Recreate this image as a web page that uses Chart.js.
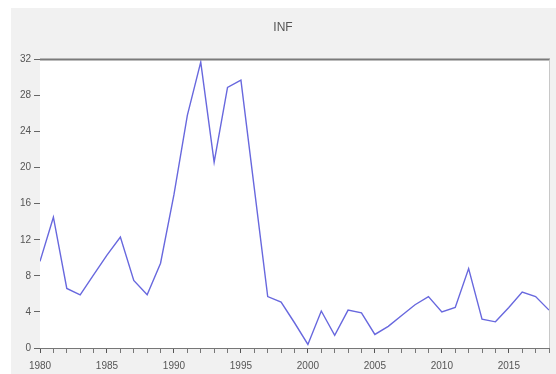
<!DOCTYPE html>
<html>
<head>
<meta charset="utf-8">
<script src="https://cdn.jsdelivr.net/npm/chart.js@4"></script>
<style>
  html, body { margin: 0; padding: 0; background: #fff; }
  #panel { position: absolute; left: 11px; top: 8px; width: 545px; height: 366px; background: #f1f1f1; }
</style>
</head>
<body>
<div id="panel"><canvas id="chart" width="545" height="366"></canvas></div>
<script>
// annual series
const years = [1980, 1981, 1982, 1983, 1984, 1985, 1986, 1987, 1988, 1989,
  1990, 1991, 1992, 1993, 1994, 1995, 1996, 1997, 1998, 1999,
  2000, 2001, 2002, 2003, 2004, 2005, 2006, 2007, 2008, 2009,
  2010, 2011, 2012, 2013, 2014, 2015, 2016, 2017, 2018];
const inf = [9.6, 14.5, 6.6, 5.9, 8.1, 10.3, 12.3, 7.5, 5.9, 9.4,
  17.0, 25.8, 31.7, 20.6, 28.9, 29.7, 17.7, 5.7, 5.1, 2.8,
  0.4, 4.1, 1.4, 4.2, 3.9, 1.5, 2.4, 3.6, 4.8, 5.7,
  4.0, 4.5, 8.8, 3.2, 2.9, 4.5, 6.2, 5.7, 4.2];
const yTicks = [0, 4, 8, 12, 16, 20, 24, 28, 32];
const xLabelEvery = 5;

const points = years.map((yr, i) => ({ x: yr, y: inf[i] }));

// white plot area plus the dark top frame
const plotFrame = {
  id: 'plotFrame',
  beforeDatasetsDraw(chart) {
    const { ctx, chartArea: a } = chart;
    ctx.save();
    ctx.fillStyle = '#ffffff';
    ctx.fillRect(a.left, a.top, a.right - a.left, a.bottom - a.top);
    ctx.restore();
  },
  afterDraw(chart) {
    const { ctx, chartArea: a } = chart;
    ctx.save();
    ctx.strokeStyle = '#7a7a7a';
    ctx.lineWidth = 2;
    ctx.beginPath();
    ctx.moveTo(a.left, a.top);
    ctx.lineTo(a.right + 1, a.top);
    ctx.stroke();
    ctx.strokeStyle = '#c8c8c8';
    ctx.lineWidth = 1;
    ctx.beginPath();
    ctx.moveTo(a.right + 0.5, a.top);
    ctx.lineTo(a.right + 0.5, a.bottom);
    ctx.stroke();
    ctx.restore();
  }
};

new Chart(document.getElementById('chart'), {
  type: 'line',
  data: {
    datasets: [{
      label: 'INF',
      data: points,
      borderColor: 'rgb(104, 104, 222)',
      borderWidth: 1.4,
      pointRadius: 0,
      tension: 0,
      fill: false
    }]
  },
  options: {
    responsive: false,
    animation: false,
    layout: { padding: { left: 0, right: 1, top: 0, bottom: 0 } },
    plugins: {
      legend: { display: false },
      tooltip: { enabled: false },
      title: {
        display: true,
        text: 'INF',
        color: '#555',
        font: { family: 'Liberation Sans, Arial', size: 12, weight: 'normal' },
        padding: { top: 12, bottom: 25 }
      }
    },
    scales: {
      x: {
        type: 'linear',
        min: years[0],
        max: years[years.length - 1],
        afterFit: s => { s.height = 26; },
        afterBuildTicks: s => { s.ticks = years.map(v => ({ value: v })); },
        ticks: {
          autoSkip: false,
          maxRotation: 0,
          padding: 7,
          color: '#555',
          font: { family: 'Liberation Sans, Arial', size: 10 },
          callback: v => (v % xLabelEvery === 0 ? String(v) : '')
        },
        grid: {
          drawOnChartArea: false,
          drawTicks: true,
          tickLength: 5,
          tickColor: ctx => (ctx.tick && ctx.tick.value % xLabelEvery === 0 ? '#555' : '#777'),
          tickWidth: 1
        },
        border: { display: true, color: '#777', width: 1 }
      },
      y: {
        min: yTicks[0],
        max: yTicks[yTicks.length - 1],
        afterFit: s => { s.width = 29; },
        afterBuildTicks: s => { s.ticks = yTicks.map(v => ({ value: v })); },
        ticks: {
          padding: 3,
          color: '#555',
          font: { family: 'Liberation Sans, Arial', size: 10 }
        },
        grid: {
          drawOnChartArea: false,
          drawTicks: true,
          tickLength: 6,
          tickColor: '#666',
          tickWidth: 1
        },
        border: { display: true, color: '#777', width: 1 }
      }
    }
  },
  plugins: [plotFrame]
});
</script>
</body>
</html>
